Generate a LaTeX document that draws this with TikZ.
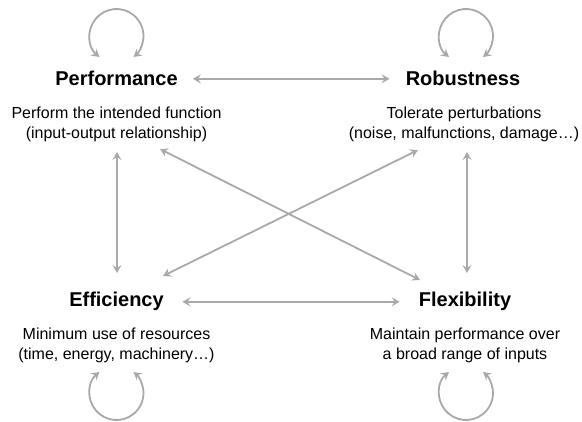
\documentclass[tikz,border=0pt]{standalone}
\usepackage{fontspec}
\setmainfont{Liberation Sans}
\usetikzlibrary{arrows.meta}
\definecolor{linkgray}{HTML}{A9A9A9}
\begin{document}
\begin{tikzpicture}[x=1pt,y=-1pt,
  title/.style={font=\fontsize{20}{24}\selectfont\bfseries, inner sep=0pt, anchor=base},
  desc/.style={font=\fontsize{16}{20}\selectfont, align=center, inner sep=0pt, anchor=north},
  tip/.style={Stealth[length=8pt,width=9pt,inset=3pt]},
  link/.style={draw=linkgray, line width=1.8pt, {Stealth[length=8pt,width=9pt,inset=3pt]}-{Stealth[length=8pt,width=9pt,inset=3pt]}},
]
\useasboundingbox (0,0) rectangle (582,422);

% the four properties
\node[title] (perf) at (116.5,86) {Performance};
\node[desc] (perfd) at (116.5,106.3) {Perform the intended function\\(input-output relationship)};
\node[title] (rob) at (463,86) {Robustness};
\node[desc] (robd) at (464,106.3) {Tolerate perturbations\\(noise, malfunctions, damage\ldots)};
\node[title] (eff) at (116.5,307) {Efficiency};
\node[desc] (effd) at (116.5,327.5) {Minimum use of resources\\(time, energy, machinery\ldots)};
\node[title] (flex) at (465,307) {Flexibility};
\node[desc] (flexd) at (465,327.5) {Maintain performance over\\a broad range of inputs};

% connector end points
\coordinate (pv) at (117,152);
\coordinate (ev) at (117,273);
\coordinate (rv) at (467,152);
\coordinate (fv) at (467,273);
\coordinate (pd) at (160,149);
\coordinate (fd) at (420,280);
\coordinate (rd) at (418,150);
\coordinate (ed) at (163,276);

% mutual influences
\draw[link, shorten <=15pt, shorten >=16pt] (perf.east) -- (rob.west);
\draw[link, shorten <=18.5pt, shorten >=19pt] (eff.east) -- (flex.west);
\draw[link] (pv) -- (ev);
\draw[link] (rv) -- (fv);
\draw[link] (pd) -- (fd);
\draw[link] (rd) -- (ed);

% self loops
\draw[link] (116.5,36) ++(129:27) arc[start angle=129, end angle=411, radius=27];
\draw[link] (466,36) ++(129:27) arc[start angle=129, end angle=411, radius=27];
\draw[link] (116.5,393) ++(231:27) arc[start angle=231, end angle=-51, radius=27];
\draw[link] (466,393) ++(231:27) arc[start angle=231, end angle=-51, radius=27];
\end{tikzpicture}
\end{document}
